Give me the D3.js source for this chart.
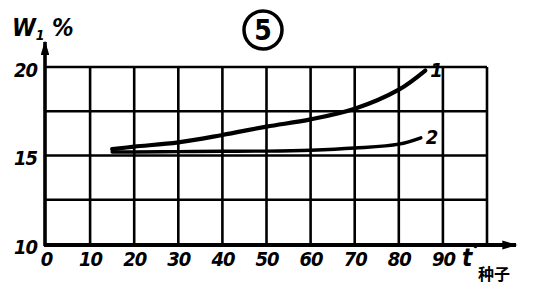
<!DOCTYPE html>
<html>
<head>
<meta charset="utf-8">
<script src="https://cdn.jsdelivr.net/npm/d3@7"></script>
<style>
  body { margin: 0; background: #fff; }
  svg text { font-family: "DejaVu Sans Condensed", "DejaVu Sans", sans-serif; font-stretch: condensed; font-style: italic; font-weight: bold; fill: #000; }
</style>
</head>
<body>
<div id="chart"></div>
<script>
// data
let xTicks = [0, 10, 20, 30, 40, 50, 60, 70, 80, 90];
let yTicks = [10, 15, 20];
let yGrid = [10, 12.5, 15, 17.5, 20];

let temp1 = [15, 20, 30, 40, 50, 60, 70, 80, 86];
let moist1 = [15.36, 15.5, 15.74, 16.16, 16.63, 17.04, 17.64, 18.72, 19.8];

let temp2 = [15, 20, 30, 40, 50, 60, 70, 80, 85];
let moist2 = [15.2, 15.2, 15.22, 15.24, 15.25, 15.3, 15.42, 15.64, 16.0];

let curveNames = ["1", "2"];

// CHART AREA
let W = 548, H = 300;
let svg = d3.select("#chart").append("svg")
    .attr("width", W)
    .attr("height", H);

let x = d3.scaleLinear().domain([0, 100]).range([46, 487]);
let y = d3.scaleLinear().domain([10, 20]).range([244, 67]);

// GRID
let grid = svg.append("g")
    .attr("stroke", "#000")
    .attr("stroke-width", 2.6);

grid.selectAll(".vline")
    .data(xTicks.slice(1).concat([100]))
    .enter().append("line")
    .attr("class", "vline")
    .attr("x1", d => x(d)).attr("x2", d => x(d))
    .attr("y1", y(20)).attr("y2", y(10));

grid.selectAll(".hline")
    .data(yGrid.slice(1))
    .enter().append("line")
    .attr("class", "hline")
    .attr("x1", x(0)).attr("x2", x(100))
    .attr("y1", d => y(d)).attr("y2", d => y(d));

// AXES with arrows
svg.append("defs").append("marker")
    .attr("id", "arr")
    .attr("viewBox", "0 0 10 6")
    .attr("refX", 9).attr("refY", 3)
    .attr("markerWidth", 4).attr("markerHeight", 2.4)
    .attr("orient", "auto")
    .append("path")
    .attr("d", "M0,0L10,3L0,6Z")
    .attr("fill", "#000");

svg.append("line")
    .attr("x1", x(0) - 1).attr("x2", x(0) - 1)
    .attr("y1", y(10) + 2).attr("y2", 42)
    .attr("stroke", "#000").attr("stroke-width", 3.6)
    .attr("marker-end", "url(#arr)");

svg.append("line")
    .attr("x1", x(0) - 2).attr("x2", 516)
    .attr("y1", y(10) + 1).attr("y2", y(10) + 1)
    .attr("stroke", "#000").attr("stroke-width", 3.8)
    .attr("marker-end", "url(#arr)");

// tick labels
let xAxis = d3.axisBottom(x).tickValues(xTicks).tickSize(0).tickPadding(8);
let yAxis = d3.axisLeft(y).tickValues(yTicks).tickSize(0).tickPadding(9);

let xAxisGroup = svg.append("g")
    .attr("class", "x-axis")
    .attr("transform", "translate(0," + y(10) + ")")
    .call(xAxis);

let yAxisGroup = svg.append("g")
    .attr("class", "y-axis")
    .attr("transform", "translate(" + x(0) + ",0)")
    .call(yAxis);

svg.selectAll(".domain").remove();
svg.selectAll(".tick text")
    .style("font-size", "20px")
    .style("font-family", "'DejaVu Sans Condensed', 'DejaVu Sans', sans-serif")
    .style("font-stretch", "condensed")
    .style("font-style", "italic")
    .style("font-weight", "bold")
    .style("letter-spacing", "-1px")
    .attr("fill", "#000");
yAxisGroup.selectAll(".tick text").attr("dy", "0.45em");

// CURVES
let line = d3.line()
    .x(d => x(d[0]))
    .y(d => y(d[1]))
    .curve(d3.curveCatmullRom);

let series = [
    d3.zip(temp1, moist1),
    d3.zip(temp2, moist2)
];
let widths = [4.2, 3.4];

svg.selectAll(".curve")
    .data(series)
    .enter().append("path")
    .attr("class", "curve")
    .attr("d", line)
    .attr("fill", "none")
    .attr("stroke", "#000")
    .attr("stroke-width", (d, i) => widths[i])
    .attr("stroke-linecap", "round");

svg.selectAll(".clabel")
    .data(series)
    .enter().append("text")
    .attr("class", "clabel")
    .attr("x", d => x(d[d.length - 1][0]) + 5)
    .attr("y", d => y(d[d.length - 1][1]) + 6)
    .style("font-size", "20px")
    .text((d, i) => curveNames[i]);

// TITLES
let yl = svg.append("text")
    .attr("x", 12).attr("y", 36)
    .style("font-size", "24px");
yl.append("tspan").text("W");
yl.append("tspan").attr("dy", 4).style("font-size", "14px").text("1");
yl.append("tspan").attr("dy", -4).text(" %");

let tl = svg.append("text")
    .attr("x", 462).attr("y", 266)
    .style("font-size", "24px");
tl.append("tspan").text("t");
tl.append("tspan").attr("dy", -12).style("font-size", "14px").text("°");

svg.append("text")
    .attr("x", 478).attr("y", 280)
    .style("font-family", "'Noto Sans CJK SC', sans-serif")
    .style("font-style", "normal")
    .style("font-size", "16px")
    .text("种子");

// circled number
svg.append("circle")
    .attr("cx", 263).attr("cy", 30).attr("r", 19)
    .attr("fill", "none").attr("stroke", "#000").attr("stroke-width", 3.5);
svg.append("text")
    .attr("x", 263).attr("y", 40)
    .attr("text-anchor", "middle")
    .style("font-style", "normal")
    .style("font-size", "28px")
    .text("5");
</script>
</body>
</html>
